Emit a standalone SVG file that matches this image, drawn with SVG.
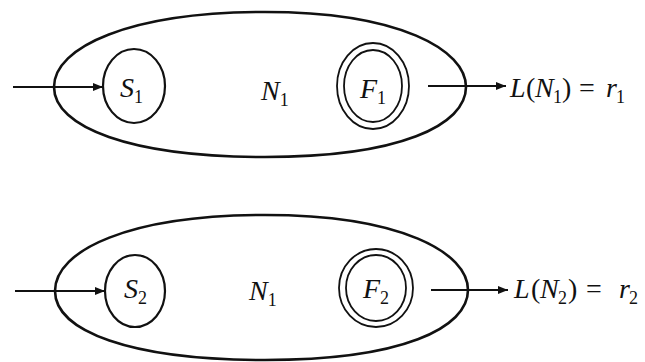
<svg xmlns="http://www.w3.org/2000/svg" width="645" height="362" viewBox="0 0 645 362">
<defs>
<style>
.outline{fill:none;stroke:#111;stroke-width:2.6}
.st{fill:none;stroke:#111;stroke-width:2.2}
.fin{fill:none;stroke:#111;stroke-width:1.8}
.ln{fill:none;stroke:#111;stroke-width:2.2}
text{font-family:"Liberation Serif","DejaVu Serif","Times New Roman",serif;font-size:28px;fill:#111}
.i{font-style:italic}
.sub{font-size:18px;font-style:normal}
</style>
<marker id="ah" viewBox="0 0 10 8" refX="10" refY="4" markerWidth="11" markerHeight="8" markerUnits="userSpaceOnUse" orient="auto">
<path d="M0,0 L10,4 L0,8 z" fill="#111"/>
</marker>
</defs>
<rect width="645" height="362" fill="#fff"/>

<g id="N1-top">
<path class="outline" d="M54,87 C54,47 130,12 265,12 C400,12 466,50 466,87 C466,125 400,157 265,157 C130,157 54,127 54,87 Z"/>
<text class="i" x="261" y="100">N<tspan class="sub" dy="6">1</tspan></text>
</g>
<g id="S1">
<ellipse class="st" cx="134" cy="86" rx="31" ry="37"/>
<text class="i" x="120" y="97">S<tspan class="sub" dy="6">1</tspan></text>
</g>
<g id="F1">
<ellipse class="fin" cx="373" cy="86" rx="36" ry="43"/>
<ellipse class="fin" cx="373" cy="86" rx="29" ry="36"/>
<text class="i" x="360" y="98">F<tspan class="sub" dy="6">1</tspan></text>
</g>
<g id="label1">
<text y="97"><tspan class="i" x="510">L</tspan><tspan x="526">(</tspan><tspan class="i" x="535">N</tspan><tspan class="sub" x="553" dy="6">1</tspan><tspan x="562" dy="-6">)</tspan><tspan x="579">=</tspan><tspan class="i" x="606">r</tspan><tspan class="sub" x="616" dy="6">1</tspan></text>
</g>

<g id="N2">
<path class="outline" d="M55,291 C55,250 130,215 265,215 C402,215 468,253 468,290 C468,328 402,360 265,360 C130,360 55,331 55,291 Z"/>
<text class="i" x="249" y="300">N<tspan class="sub" dy="6">1</tspan></text>
</g>
<g id="S2">
<ellipse class="st" cx="135" cy="291" rx="30" ry="36"/>
<text class="i" x="124" y="298">S<tspan class="sub" dy="6">2</tspan></text>
</g>
<g id="F2">
<ellipse class="fin" cx="376" cy="288" rx="37" ry="39"/>
<ellipse class="fin" cx="376" cy="288" rx="30" ry="33"/>
<text class="i" x="363" y="298">F<tspan class="sub" dy="6">2</tspan></text>
</g>
<g id="label2">
<text y="298"><tspan class="i" x="514">L</tspan><tspan x="531">(</tspan><tspan class="i" x="540">N</tspan><tspan class="sub" x="558" dy="6">2</tspan><tspan x="568" dy="-6">)</tspan><tspan x="586">=</tspan><tspan class="i" x="619">r</tspan><tspan class="sub" x="629" dy="6">2</tspan></text>
</g>

<g id="connectors">
<line class="ln" x1="13" y1="87" x2="103" y2="87" marker-end="url(#ah)"/>
<line class="ln" x1="428" y1="86" x2="506" y2="86" marker-end="url(#ah)"/>
<line class="ln" x1="15" y1="291" x2="105" y2="291" marker-end="url(#ah)"/>
<line class="ln" x1="431" y1="290" x2="508" y2="290" marker-end="url(#ah)"/>
</g>
</svg>
